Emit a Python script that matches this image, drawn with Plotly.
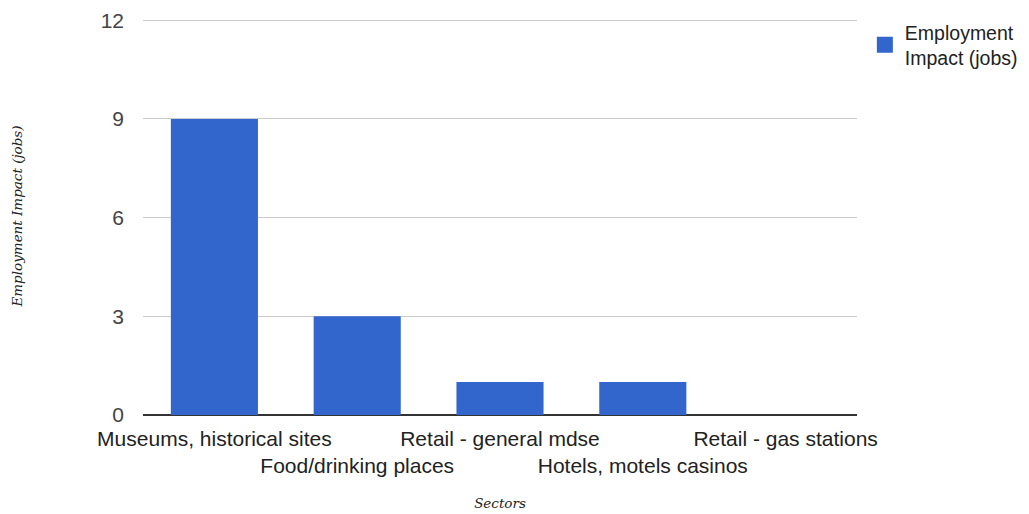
import plotly.graph_objects as go

categories = ["Museums, historical sites", "Food/drinking places", "Retail - general mdse",
              "Hotels, motels casinos", "Retail - gas stations"]
values = [9, 3, 1, 1, 0]
series_name = "Employment<br>Impact (jobs)"
y_ticks = [0, 3, 6, 9, 12]

tick_text = [c if i % 2 == 0 else "<br>" + c for i, c in enumerate(categories)]

fig = go.Figure()
fig.add_trace(go.Bar(x=categories, y=values, name=series_name, showlegend=False,
                     marker=dict(color="#3366cc", line=dict(width=0))))
# legend entry with a larger square swatch
fig.add_trace(go.Scatter(x=[None], y=[None], mode="markers", name=series_name,
                         marker=dict(symbol="square", size=22, color="#3366cc"),
                         showlegend=True, hoverinfo="skip"))

fig.update_layout(
    width=1021, height=506,
    margin=dict(l=135, r=172, t=9, b=99, autoexpand=False),
    plot_bgcolor="white", paper_bgcolor="white",
    font=dict(family="Liberation Sans, Arial", size=21, color="#222222"),
    bargap=0.39,
    showlegend=True,
    legend=dict(x=1.011, y=1.01, xanchor="left", yanchor="top", itemsizing="trace",
                font=dict(size=19.5, color="#222222"), tracegroupgap=0,
                itemwidth=30),
    xaxis=dict(tickmode="array", tickvals=categories, ticktext=tick_text, tickangle=0,
               automargin=False, ticklabelstandoff=9,
               tickfont=dict(size=21, color="#222222"), showgrid=False,
               title=dict(text="Sectors", standoff=22,
                          font=dict(family="DejaVu Serif", size=13.5, style="italic", color="#222222"))),
    yaxis=dict(range=[0, 12.1], tickvals=y_ticks, showgrid=True, gridcolor="#cccccc",
               automargin=False,
               gridwidth=1, zeroline=True, zerolinecolor="#333333", zerolinewidth=2,
               ticklabelstandoff=18, tickfont=dict(size=21, color="#444444"),
               title=dict(text="Employment Impact (jobs)", standoff=74,
                          font=dict(family="DejaVu Serif", size=13.5, style="italic", color="#222222"))),
)

fig.write_html("out.html")
